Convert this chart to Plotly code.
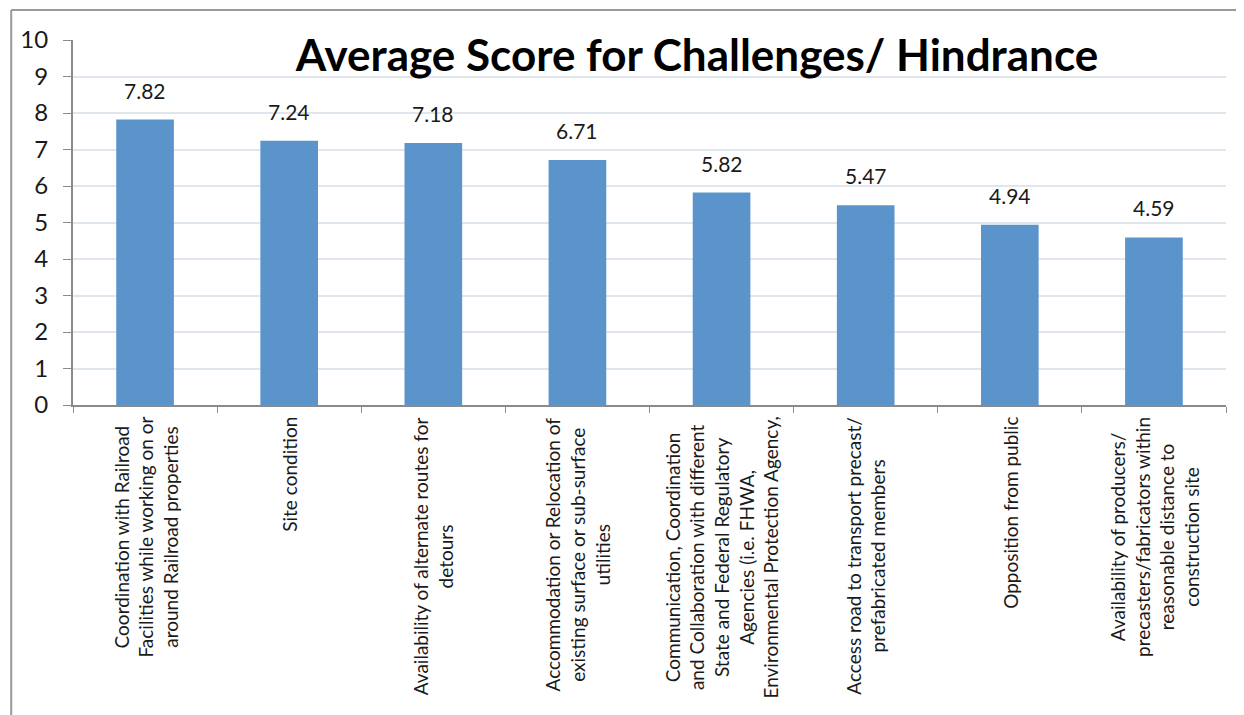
import plotly.graph_objects as go

# challenge categories (label lines as in the source chart)
categories = [
    "Coordination with Railroad<br>Facilities while working on or<br>around Railroad properties",
    "Site condition",
    "Availability of alternate routes for<br>detours",
    "Accommodation or Relocation of<br>existing surface or sub-surface<br>utilities",
    "Communication, Coordination<br>and Collaboration with different<br>State and Federal Regulatory<br>Agencies (i.e. FHWA,<br>Environmental Protection Agency,",
    "Access road to transport precast/<br>prefabricated members",
    "Opposition from public",
    "Availability of producers/<br>precasters/fabricators within<br>reasonable distance to<br>construction site",
]
scores = [7.82, 7.24, 7.18, 6.71, 5.82, 5.47, 4.94, 4.59]
y_ticks = list(range(0, 11))

FONT = "Lato"
BAR_COLOR = "#5B93CB"

fig = go.Figure()
fig.add_trace(
    go.Bar(
        x=categories,
        y=scores,
        marker=dict(color=BAR_COLOR, line=dict(width=0)),
        width=0.4,
        hoverinfo="x+y",
    )
)

# value labels above bars
for cat, val in zip(categories, scores):
    fig.add_annotation(
        x=cat, y=val, xref="x", yref="y",
        text=f"{val:.2f}", showarrow=False,
        yanchor="bottom", yshift=15,
        font=dict(family=FONT, size=21, color="#1a1a1a"),
    )

# rotated, centred category labels under the axis
for cat in categories:
    fig.add_annotation(
        x=cat, y=0, xref="x", yref="paper",
        text=cat, showarrow=False, textangle=-90,
        yanchor="top", yshift=-10, align="center",
        font=dict(family=FONT, size=19, color="#1a1a1a"),
    )

# chart frame (top and left edge only visible)
fig.add_shape(type="line", xref="paper", yref="paper",
              x0=-0.0536, x1=1.1, y0=1.082, y1=1.082,
              line=dict(color="#9a9a9a", width=2))
fig.add_shape(type="line", xref="paper", yref="paper",
              x0=-0.0536, x1=-0.0536, y0=1.082, y1=-0.9,
              line=dict(color="#9a9a9a", width=2))

fig.update_layout(
    width=1236, height=707,
    margin=dict(l=62, r=18, t=32, b=310),
    paper_bgcolor="white", plot_bgcolor="white",
    showlegend=False,
    title=dict(
        text="<b>Average Score for Challenges/ Hindrance</b>",
        x=(697 - 8) / 1236, xanchor="center", xref="container",
        y=1 - (56 - 8) / 707, yanchor="middle", yref="container",
        font=dict(family=FONT, size=44, color="black"),
    ),
    bargap=0.6,
)
fig.update_xaxes(
    showticklabels=False,
    tickson="boundaries", ticks="outside", ticklen=6, tickcolor="#8a8a8a",
    showline=True, linecolor="#8a8a8a", linewidth=2,
    showgrid=False,
)
fig.update_yaxes(
    range=[0, 10], tickvals=y_ticks,
    ticks="outside", ticklen=8, tickcolor="#8a8a8a",
    showline=True, linecolor="#8a8a8a", linewidth=2,
    showgrid=True, gridcolor="#dfe6ee", gridwidth=1.5,
    zeroline=False,
    tickfont=dict(family=FONT, size=24, color="#1a1a1a"),
    ticklabelstandoff=10,
)

fig.write_html("out.html")
